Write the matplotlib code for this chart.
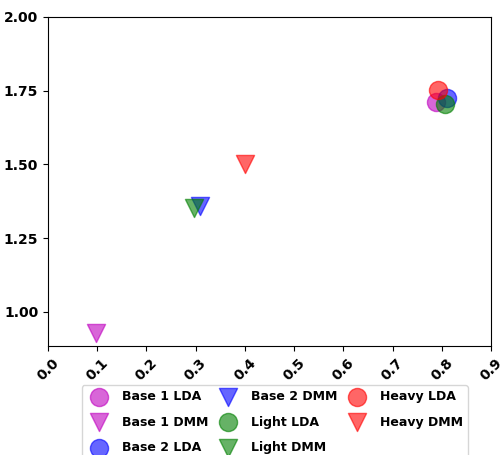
import matplotlib
matplotlib.use("Agg")
import matplotlib.pyplot as plt

labels = ["Base 1 LDA", "Base 1 DMM", "Base 2 LDA", "Base 2 DMM",
          "Light LDA", "Light DMM", "Heavy LDA", "Heavy DMM"]
x_vals = [0.789, 0.097, 0.811, 0.308, 0.807, 0.296, 0.793, 0.400]
y_vals = [1.713, 0.930, 1.726, 1.358, 1.706, 1.352, 1.752, 1.500]
colors = ["m", "m", "b", "b", "g", "g", "r", "r"]
markers = ["o", "v", "o", "v", "o", "v", "o", "v"]
xticks = [0.0, 0.1, 0.2, 0.3, 0.4, 0.5, 0.6, 0.7, 0.8, 0.9]
yticks = [1.00, 1.25, 1.50, 1.75, 2.00]

fig = plt.figure(figsize=(5, 4.55), dpi=100)
ax = fig.add_axes([0.096, 0.240, 0.886, 0.723])
for lab, x, y, c, m in zip(labels, x_vals, y_vals, colors, markers):
    ax.scatter(x, y, s=170, c=c, marker=m, alpha=0.6, label=lab)
ax.set_xlim(0.0, 0.9)
ax.set_ylim(0.885, 2.0)
ax.set_xticks(xticks)
ax.set_xticklabels([f"{t:.1f}" for t in xticks], rotation=45, fontweight="bold")
ax.set_yticks(yticks)
ax.set_yticklabels([f"{t:.2f}" for t in yticks], fontweight="bold")
ax.legend(loc="upper center", bbox_to_anchor=(0.512, -0.101), ncol=3,
          prop={"weight": "bold", "size": 9}, columnspacing=0.6,
          labelspacing=1.0)
fig.savefig("out.png", dpi=100)
